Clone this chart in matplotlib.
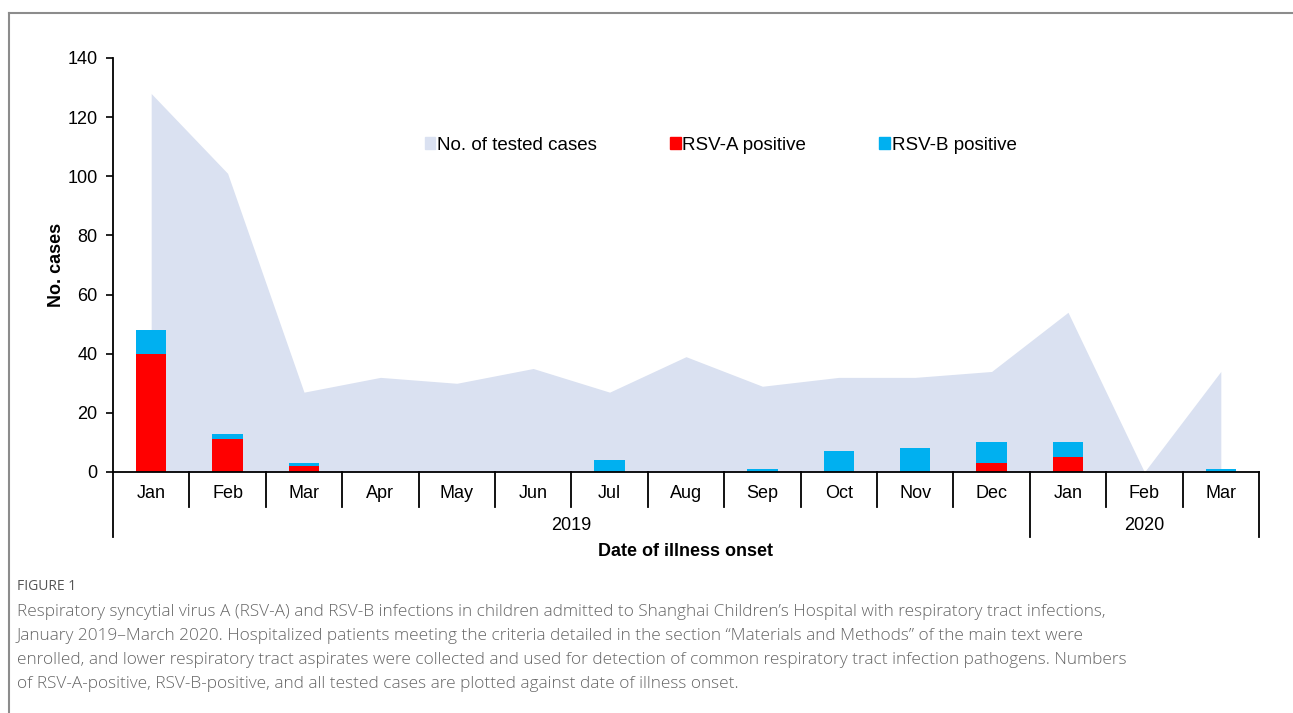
import matplotlib.pyplot as plt
from matplotlib.lines import Line2D
from matplotlib.patches import Patch
import numpy as np

plt.rcParams['font.family'] = ['Liberation Sans', 'DejaVu Sans']

# data
months = ['Jan', 'Feb', 'Mar', 'Apr', 'May', 'Jun', 'Jul', 'Aug', 'Sep', 'Oct',
          'Nov', 'Dec', 'Jan', 'Feb', 'Mar']
years = ['2019', '2020']
year_spans = [(0, 11), (12, 14)]
tested = [128, 101, 27, 32, 30, 35, 27, 39, 29, 32, 32, 34, 54, 0, 34]
rsv_a = [40, 11, 2, 0, 0, 0, 0, 0, 0, 0, 0, 3, 5, 0, 0]
rsv_b = [8, 2, 1, 0, 0, 0, 4, 0, 1, 7, 8, 7, 5, 0, 1]

c_area = '#dae1f1'
c_a = '#ff0000'
c_b = '#00b0f0'

W, H = 1293, 713
fig = plt.figure(figsize=(W / 100, H / 100), dpi=100)

# axes placed in pixels
x0, x1 = 113, 1259
y_top, y_base = 58, 472
ax = fig.add_axes([x0 / W, 1 - y_base / H, (x1 - x0) / W, (y_base - y_top) / H])

x = np.arange(len(months))
ax.fill_between(x, tested, color=c_area, lw=0, zorder=1)
ax.bar(x, rsv_a, width=0.4, color=c_a, zorder=2)
ax.bar(x, rsv_b, width=0.4, bottom=rsv_a, color=c_b, zorder=2)

ax.set_xlim(-0.5, len(months) - 0.5)
ax.set_ylim(0, 140)
ax.set_yticks(np.arange(0, 141, 20))
ax.tick_params(axis='y', labelsize=13, length=5, width=1.2, direction='out', pad=6)
ax.set_xticks([])
for s in ['top', 'right']:
    ax.spines[s].set_visible(False)
ax.spines['left'].set_linewidth(1.3)
ax.spines['bottom'].set_linewidth(1.3)
ax.set_ylabel('No. cases', fontsize=13, fontweight='bold', labelpad=1.5)

# multi level category axis
px = 1 / (y_base - y_top)
tr = ax.get_xaxis_transform()
month_bottom = -35 * px
year_bottom = -65 * px
year_edges = [-0.5] + [e + 0.5 for _, e in year_spans]
for b in np.arange(-0.5, len(months), 1.0):
    low = year_bottom if b in year_edges else month_bottom
    ax.plot([b, b], [0, low], color='black', lw=1.3, transform=tr, clip_on=False)
for i, m in enumerate(months):
    ax.text(i, -22 * px, m, ha='center', va='center', fontsize=13, transform=tr)
for yr, (s, e) in zip(years, year_spans):
    ax.text((s + e) / 2, -53 * px, yr, ha='center', va='center', fontsize=13, transform=tr)
ax.text(0.5, -79 * px, 'Date of illness onset', ha='center', va='center',
        fontsize=13, fontweight='bold', transform=ax.transAxes)

handles = [Patch(color=c_area, label='No. of tested cases'),
           Patch(color=c_a, label='RSV-A positive'),
           Patch(color=c_b, label='RSV-B positive')]
ax.legend(handles=handles, ncol=3, frameon=False, fontsize=13.5,
          loc='center left', bbox_to_anchor=((425 - x0) / (x1 - x0), (y_base - 145) * px),
          borderpad=0, borderaxespad=0, handlelength=0.55, handleheight=0.55,
          handletextpad=0.1, columnspacing=3.9)

# panel border (top and left)
fig.add_artist(Line2D([9 / W, 1], [1 - 13 / H, 1 - 13 / H], color='#8c8c8c', lw=1.5))
fig.add_artist(Line2D([9 / W, 9 / W], [1 - 13 / H, 0], color='#8c8c8c', lw=1.5))

# caption
cap_font = ['Open Sans', 'DejaVu Sans']
fig.text(17 / W, 1 - 587 / H, 'FIGURE 1', fontsize=10, color='#555555',
         family=cap_font, va='center')
caption = [
    'Respiratory syncytial virus A (RSV-A) and RSV-B infections in children admitted to Shanghai Children\u2019s Hospital with respiratory tract infections,',
    'January 2019\u2013March 2020. Hospitalized patients meeting the criteria detailed in the section \u201cMaterials and Methods\u201d of the main text were',
    'enrolled, and lower respiratory tract aspirates were collected and used for detection of common respiratory tract infection pathogens. Numbers',
    'of RSV-A-positive, RSV-B-positive, and all tested cases are plotted against date of illness onset.',
]
for k, line in enumerate(caption):
    fig.text(17 / W, 1 - (612 + 24 * k) / H, line, fontsize=12.4, color='#666666',
             family=cap_font, fontweight='light', va='center')

fig.savefig('out.png', dpi=100)
